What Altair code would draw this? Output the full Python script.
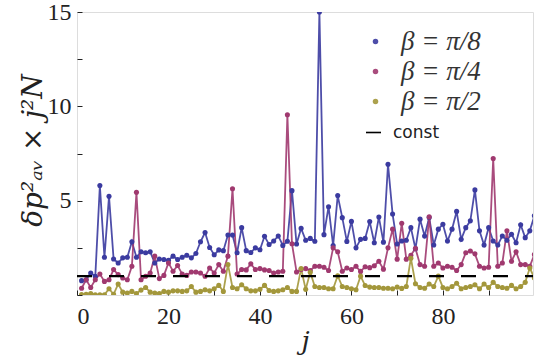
import altair as alt
import pandas as pd

# ---- data ----
j_vals = list(range(1, 101))

beta_pi8 = [0.76, 0.81, 1.17, 0.99, 5.80, 2.00, 5.23, 1.91, 1.70, 1.97,
            2.00, 2.82, 2.00, 2.29, 2.24, 2.29, 1.70, 1.91, 1.88, 1.84,
            2.06, 1.88, 2.00, 2.11, 1.97, 2.20, 2.82, 3.31, 2.52, 2.13,
            2.39, 2.35, 3.18, 3.18, 2.24, 3.57, 2.35, 2.25, 2.50, 2.40,
            3.11, 2.68, 2.86, 3.13, 2.63, 2.85, 5.53, 2.70, 3.53, 2.90,
            3.00, 2.85, 15.0, 3.20, 4.68, 2.62, 5.27, 4.10, 2.84, 3.90,
            2.50, 2.95, 3.00, 3.89, 2.77, 4.13, 2.80, 6.93, 4.29, 2.70,
            2.86, 2.90, 3.57, 2.45, 4.02, 3.13, 4.11, 2.65, 3.49, 3.75,
            2.86, 3.49, 4.43, 2.95, 3.57, 3.93, 5.57, 3.40, 2.65, 3.57,
            2.86, 2.65, 3.13, 2.90, 3.22, 2.77, 3.72, 3.04, 3.40, 4.20]

beta_pi4 = [0.36, 0.81, 0.40, 0.81, 1.11, 0.72, 0.81, 1.35, 1.08, 0.90,
            0.81, 1.52, 5.44, 0.81, 0.99, 1.17, 2.06, 0.87, 1.04, 1.70,
            1.26, 1.56, 1.11, 1.04, 1.22, 1.22, 1.17, 0.99, 1.43, 1.17,
            1.61, 1.26, 2.06, 5.63, 1.11, 1.35, 1.33, 1.65, 1.35, 1.40,
            1.33, 1.30, 1.17, 1.22, 1.26, 9.55, 2.72, 1.22, 1.35, 1.40,
            1.30, 1.52, 1.52, 1.47, 1.30, 2.50, 2.29, 1.26, 1.43, 1.35,
            1.52, 1.25, 1.50, 1.45, 1.55, 1.79, 1.37, 2.50, 3.49, 1.90,
            3.80, 1.90, 2.11, 2.47, 1.61, 1.52, 4.14, 1.52, 1.70, 1.43,
            1.52, 1.47, 1.30, 1.61, 2.24, 2.33, 2.18, 1.52, 1.43, 1.47,
            7.23, 1.52, 1.70, 3.40, 1.79, 2.29, 1.61, 1.61, 1.52, 2.15]

beta_pi2 = [0.02, 0.04, 0.08, 0.01, 0.01, 0.01, 0.33, 0.04, 0.58, 0.15,
            0.10, 0.19, 0.08, 0.26, 0.40, 0.15, 0.10, 0.08, 0.19, 0.15,
            0.22, 0.22, 0.19, 0.22, 0.45, 0.15, 0.19, 0.28, 0.22, 0.33,
            0.51, 0.19, 1.62, 0.40, 0.33, 0.54, 0.33, 0.22, 0.22, 0.30,
            0.51, 0.24, 0.19, 0.22, 0.28, 0.40, 0.19, 0.19, 1.40, 0.30,
            1.20, 0.45, 0.40, 0.40, 0.33, 0.33, 1.02, 0.45, 0.40, 0.33,
            0.28, 1.00, 0.50, 0.42, 0.40, 0.40, 0.36, 0.36, 0.33, 0.42,
            0.35, 0.45, 1.95, 0.60, 0.40, 0.36, 0.58, 0.45, 1.00, 0.40,
            0.33, 0.45, 0.62, 0.33, 0.40, 0.45, 0.54, 0.33, 0.58, 0.40,
            0.67, 0.45, 0.40, 0.36, 0.51, 0.33, 0.45, 0.67, 1.43, 0.90]

series_labels = ["β = π/8", "β = π/4", "β = π/2"]
series_colors = ["#3b3ba0", "#a0396f", "#a3973b"]
const_label = "const"
const_level = 1.0
const_j = [0, 100]

x_tick_values = [0, 10, 20, 30, 40, 50, 60, 70, 80, 90]
x_label_values = [0, 20, 40, 60, 80]
y_tick_values = [0, 2.5, 5, 7.5, 10, 12.5, 15]
y_label_values = [5, 10, 15]

# ---- tables ----
rows = []
for lab, vals in zip(series_labels, [beta_pi8, beta_pi4, beta_pi2]):
    for j, v in zip(j_vals, vals):
        rows.append({"j": j, "v": v, "series": lab})
df = pd.DataFrame(rows)
const_df = pd.DataFrame({"j": const_j, "v": [const_level] * len(const_j),
                         "kind": [const_label] * len(const_j)})

xscale = alt.Scale(domain=[0, 99.7], nice=False, zero=False)
yscale = alt.Scale(domain=[0, 15], nice=False)
cscale = alt.Scale(domain=series_labels, range=series_colors)

serif = "Liberation Serif"

series_legend = alt.Legend(orient="none", legendX=285, legendY=16,
                           title=None, symbolType="circle", symbolSize=30,
                           symbolStrokeWidth=0,
                           labelFont=serif, labelFontStyle="italic",
                           labelFontSize=27, labelColor="#333",
                           labelOffset=12, rowPadding=2, padding=0)

x_label_axis = alt.Axis(values=x_label_values, ticks=False, domain=False, grid=False,
                        labelFont=serif, labelFontSize=24, labelColor="#222",
                        labelPadding=9, orient="bottom",
                        title="j", titleFont="DejaVu Serif", titleFontStyle="italic",
                        titleFontWeight="normal", titleFontSize=26, titleColor="#222",
                        titleBaseline="alphabetic", titleY=54)
x_tick_axis = alt.Axis(values=x_tick_values, ticks=True, tickSize=5, offset=-5,
                       tickColor="#222", tickWidth=1, labels=False, domain=False,
                       grid=False, title=None, orient="bottom")
y_label_axis = alt.Axis(values=y_label_values, ticks=False, domain=False, grid=False,
                        labelFont=serif, labelFontSize=24, labelColor="#222",
                        labelPadding=6, orient="left", labelFlush=False,
                        title="δp²ₐᵥ × j²N", titleFont="DejaVu Serif",
                        titleFontStyle="italic", titleFontWeight="normal",
                        titleFontSize=28, titleColor="#222", titleAngle=270,
                        titleAlign="center", titleBaseline="middle",
                        titleX=-44, titleY=138)
y_tick_axis = alt.Axis(values=y_tick_values, ticks=True, tickSize=5, offset=-5,
                       tickColor="#222", tickWidth=1, labels=False, domain=False,
                       grid=False, title=None, orient="left")

lines = alt.Chart(df).mark_line(strokeWidth=1.8, opacity=0.9, clip=True).encode(
    x=alt.X("j:Q", scale=xscale, axis=x_label_axis),
    y=alt.Y("v:Q", scale=yscale, axis=y_label_axis),
    color=alt.Color("series:N", scale=cscale, legend=series_legend),
    detail="series:N",
)

points = alt.Chart(df).mark_circle(size=26, opacity=1, clip=True).encode(
    x=alt.X("j:Q", scale=xscale, axis=x_tick_axis),
    y=alt.Y("v:Q", scale=yscale, axis=y_tick_axis),
    color=alt.Color("series:N", scale=cscale, legend=series_legend),
)

const = alt.Chart(const_df).mark_line(color="black", strokeWidth=2.3, clip=True).encode(
    x=alt.X("j:Q", scale=xscale, axis=None),
    y=alt.Y("v:Q", scale=yscale, axis=None),
    strokeDash=alt.StrokeDash("kind:N",
                              scale=alt.Scale(domain=[const_label], range=[[15, 17]]),
                              legend=alt.Legend(orient="none", legendX=288, legendY=112,
                                                title=None, symbolType="stroke",
                                                symbolSize=225, symbolStrokeWidth=1.6,
                                                symbolStrokeColor="black",
                                                labelFont="DejaVu Sans", labelFontSize=17,
                                                labelColor="#222", labelOffset=11,
                                                padding=0)),
)

chart = alt.layer(lines, points, const).resolve_axis(
    x="independent", y="independent"
).properties(
    width=456, height=283,
    autosize=alt.AutoSizeParams(type="none"),
    padding={"left": 77, "top": 12, "right": 1, "bottom": 64},
).configure_view(stroke="#333", strokeWidth=1.2).configure(background="white")

chart.save("out.html", embed_options={"renderer": "svg", "actions": False})
